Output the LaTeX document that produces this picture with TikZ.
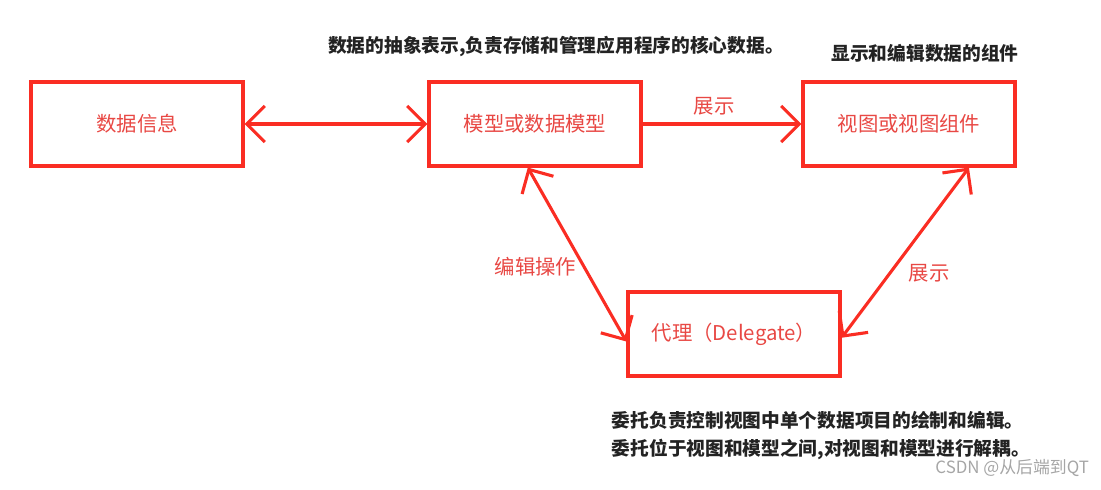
\documentclass[tikz,border=0pt]{standalone}
\usepackage{fontspec}
\setmainfont{Noto Sans CJK SC}
\usetikzlibrary{arrows.meta}
\definecolor{boxred}{RGB}{250,45,35}
\definecolor{labred}{RGB}{232,72,68}
\definecolor{notegray}{RGB}{35,35,35}
\begin{document}
\begin{tikzpicture}[x=0.025cm,y=-0.025cm,
 >={Straight Barb[length=4.5mm,width=9mm]},
 box/.style={draw=boxred,line width=2.2pt,minimum width=5.3cm,minimum height=2.1cm,text=labred,font=\fontsize{14.5}{17}\selectfont},
 link/.style={draw=boxred,line width=2.2pt},
 lab/.style={text=labred,font=\fontsize{14.5}{17}\selectfont},
 note/.style={text=notegray,font=\fontsize{13.3}{16}\selectfont\bfseries}]
\useasboundingbox (0,0) rectangle (1101,489);
\node[box] (info) at (137,124) {数据信息};
\node[box] (model) at (535,124) {模型或数据模型};
\node[box] (view) at (909,124) {视图或视图组件};
\node[box] (delegate) at (734,334) {代理（Delegate）};
\draw[link,<->] (info) -- (model);
\draw[link,->] (model) -- node[lab,pos=0.45,above=2pt]{展示} (view);
\draw[link,<->] ([xshift=-0.18cm]model.south) -- node[lab,pos=0.57,left=1pt]{编辑操作} (delegate.184);
\draw[link,<->] (view.-36) -- node[lab,pos=0.62,right=9pt]{展示} (delegate.-2);
% notes
\node[note] (modelnote) at (556,46) {数据的抽象表示,负责存储和管理应用程序的核心数据。};
\node[note] (viewnote) at (925,53) {显示和编辑数据的组件};
\node[note,anchor=west] (delnote1) at (607,420) {委托负责控制视图中单个数据项目的绘制和编辑。};
\node[note,anchor=west] (delnote2) at (607,449) {委托位于视图和模型之间,对视图和模型进行解耦。};
\node[text=gray!70,font=\fontsize{12}{14}\selectfont,anchor=east] (mark) at (1094,468) {CSDN @从后端到QT};
\end{tikzpicture}
\end{document}
